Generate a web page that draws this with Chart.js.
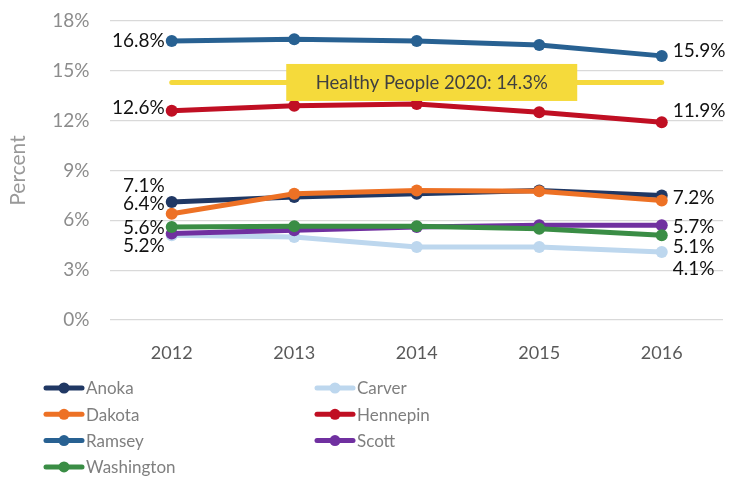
<!DOCTYPE html>
<html>
<head>
<meta charset="utf-8">
<script src="https://cdn.jsdelivr.net/npm/chart.js@4"></script>
<style>
  html, body { margin: 0; padding: 0; background: #fff; }
  #wrap { width: 729px; height: 477px; }
</style>
</head>
<body>
<div id="wrap"><canvas id="rateChart" width="729" height="477"></canvas></div>
<script>
const years = ["2012", "2013", "2014", "2015", "2016"];
const anoka = [7.1, 7.4, 7.6, 7.8, 7.5];
const carver = [5.1, 5.0, 4.4, 4.4, 4.1];
const dakota = [6.4, 7.6, 7.8, 7.75, 7.2];
const hennepin = [12.6, 12.9, 13.0, 12.5, 11.9];
const ramsey = [16.8, 16.9, 16.8, 16.55, 15.9];
const scott = [5.2, 5.4, 5.6, 5.7, 5.7];
const washington = [5.6, 5.65, 5.65, 5.5, 5.1];
const goalValue = 14.3;
const goalText = "Healthy People 2020: 14.3%";
const yTicks = [0, 3, 6, 9, 12, 15, 18];

const FONT = "Lato, 'Open Sans', sans-serif";

// label placement per series: which end gets a label and vertical nudge
const labelStyle = {
    Anoka:      { left: -16 },
    Carver:     { right: 17 },
    Dakota:     { left: -10, right: -3 },
    Hennepin:   { left: -3, right: -11 },
    Ramsey:     { left: 0, right: -5 },
    Scott:      { left: 12, right: 2 },
    Washington: { left: 1, right: 12 }
};

function series(label, data, color, order){
    return {
        label: label,
        data: data,
        borderColor: color,
        backgroundColor: color,
        borderWidth: 5,
        pointRadius: 6,
        pointHoverRadius: 6,
        pointBackgroundColor: color,
        pointBorderWidth: 0,
        tension: 0,
        order: order
    };
}

const datasets = [
    series("Anoka", anoka, "#203864", 7),
    series("Carver", carver, "#BDD7EE", 6),
    series("Dakota", dakota, "#ED7125", 5),
    series("Hennepin", hennepin, "#C00F23", 4),
    series("Ramsey", ramsey, "#286192", 3),
    series("Scott", scott, "#7030A0", 2),
    series("Washington", washington, "#3A8D45", 1),
    {
        label: "goal",
        data: years.map(() => goalValue),
        borderColor: "#F5D93C",
        borderWidth: 5,
        borderCapStyle: "round",
        pointRadius: 0,
        order: 10,
        isGoal: true
    }
];

const labelPlugin = {
    id: "endLabels",
    afterDatasetsDraw(chart){
        const ctx = chart.ctx;
        ctx.save();
        ctx.font = "19px " + FONT;
        ctx.fillStyle = "#111";
        ctx.textBaseline = "middle";
        chart.data.datasets.forEach((ds, i) => {
            const st = labelStyle[ds.label];
            if(!st) return;
            const pts = chart.getDatasetMeta(i).data;
            if(st.left !== undefined){
                const p = pts[0];
                ctx.textAlign = "right";
                ctx.fillText(ds.data[0].toFixed(1) + "%", p.x - 7, p.y + st.left);
            }
            if(st.right !== undefined){
                const p = pts[pts.length - 1];
                ctx.textAlign = "left";
                ctx.fillText(ds.data[pts.length - 1].toFixed(1) + "%", p.x + 11, p.y + st.right);
            }
        });

        // goal callout box
        const gi = chart.data.datasets.findIndex(d => d.isGoal);
        const gp = chart.getDatasetMeta(gi).data[2];
        const bw = 291, bh = 37;
        const cx = gp.x + 15;
        ctx.fillStyle = "#F5DA3B";
        ctx.fillRect(cx - bw / 2, gp.y - bh / 2, bw, bh);
        ctx.fillStyle = "#404040";
        ctx.font = "18.5px " + FONT;
        ctx.textAlign = "center";
        ctx.fillText(goalText, cx, gp.y + 1);
        ctx.restore();
    }
};

const legendPlugin = {
    id: "twoColLegend",
    afterDraw(chart){
        const ctx = chart.ctx;
        const colX = [44, 315];
        const rowY = 388, rowH = 26.3;
        ctx.save();
        ctx.font = "17px " + FONT;
        ctx.textBaseline = "middle";
        ctx.textAlign = "left";
        chart.data.datasets.filter(d => !d.isGoal).forEach((ds, i) => {
            const x = colX[i % 2];
            const y = rowY + Math.floor(i / 2) * rowH;
            ctx.strokeStyle = ds.borderColor;
            ctx.lineWidth = 5;
            ctx.lineCap = "round";
            ctx.beginPath();
            ctx.moveTo(x + 2, y);
            ctx.lineTo(x + 38, y);
            ctx.stroke();
            ctx.fillStyle = ds.borderColor;
            ctx.beginPath();
            ctx.arc(x + 20, y, 5.5, 0, Math.PI * 2);
            ctx.fill();
            ctx.fillStyle = "#7f7f7f";
            ctx.fillText(ds.label, x + 42, y + 1);
        });
        ctx.restore();
    }
};

new Chart(document.getElementById("rateChart"), {
    type: "line",
    data: { labels: years, datasets: datasets },
    plugins: [labelPlugin, legendPlugin],
    options: {
        responsive: false,
        animation: false,
        layout: { padding: { top: 0, right: 6, left: 6, bottom: 107 } },
        plugins: {
            legend: { display: false },
            tooltip: { enabled: false }
        },
        scales: {
            x: {
                offset: true,
                grid: { display: false },
                border: { display: false },
                ticks: { color: "#595959", font: { family: FONT, size: 18 }, padding: 14 },
                afterFit(scale){ scale.height = 50; }
            },
            y: {
                min: 0,
                max: 18,
                afterBuildTicks(scale){ scale.ticks = yTicks.map(v => ({ value: v })); },
                grid: { color: "#D9D9D9", lineWidth: 1.3, drawTicks: false },
                border: { display: false },
                ticks: {
                    color: "#8c8c8c",
                    font: { family: FONT, size: 19 },
                    padding: 21,
                    callback: v => v + "%"
                },
                title: {
                    display: true,
                    text: "Percent",
                    color: "#999999",
                    font: { family: FONT, size: 21 },
                    padding: { top: 0, bottom: 0 }
                },
                afterFit(scale){ scale.paddingTop = 21; scale.paddingBottom = 10; }
            }
        }
    }
});
</script>
</body>
</html>
